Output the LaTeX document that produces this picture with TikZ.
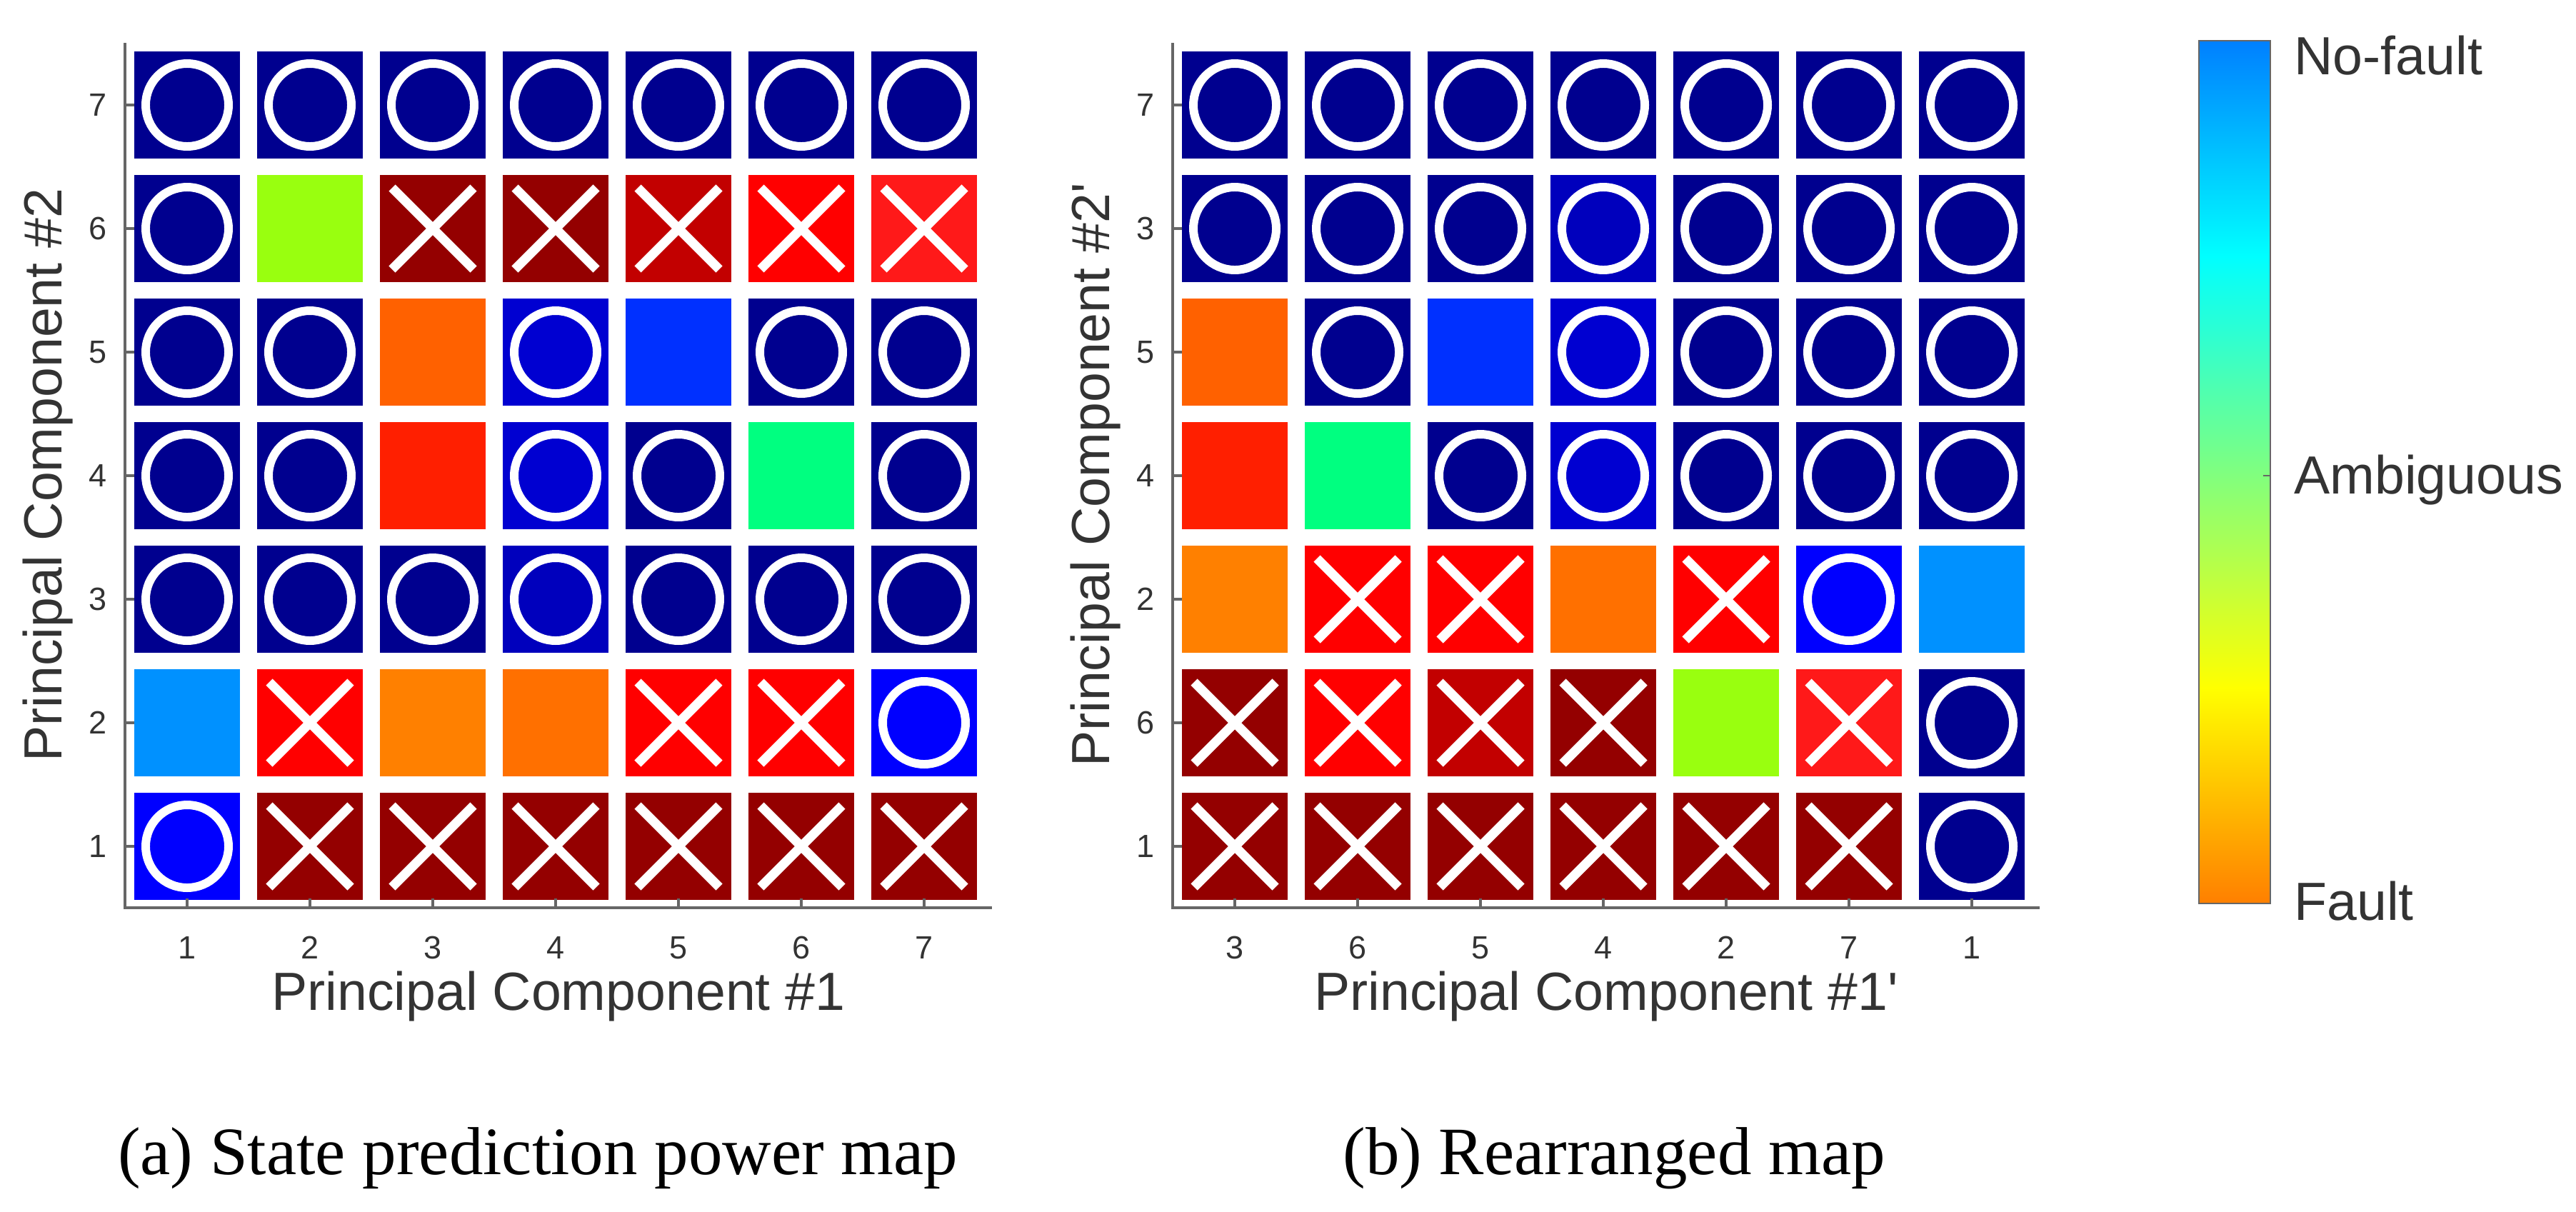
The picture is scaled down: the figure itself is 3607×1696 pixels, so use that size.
\documentclass[tikz,border=0pt]{standalone}
\usepackage{fontspec}
\setmainfont{Liberation Serif}
\newfontfamily\sansf{Liberation Sans}
\definecolor{nv}{rgb}{0,0,0.56}
\definecolor{bone}{rgb}{0,0,0.82}
\definecolor{btwo}{rgb}{0,0,0.74}
\definecolor{bb}{rgb}{0,0,1}
\definecolor{bsq}{rgb}{0,0.19,1}
\definecolor{lb}{rgb}{0,0.57,1}
\definecolor{lime}{rgb}{0.6,1,0.06}
\definecolor{sg}{rgb}{0,1,0.5}
\definecolor{dr}{rgb}{0.58,0,0}
\definecolor{drt}{rgb}{0.76,0,0}
\definecolor{rd}{rgb}{1,0,0}
\definecolor{rdt}{rgb}{1,0.1,0.1}
\definecolor{ro}{rgb}{1,0.12,0}
\definecolor{oa}{rgb}{1,0.38,0}
\definecolor{ob}{rgb}{1,0.5,0}
\definecolor{oc}{rgb}{1,0.44,0}
\definecolor{txt}{rgb}{0.2,0.2,0.2}
\definecolor{axc}{rgb}{0.4,0.4,0.4}
\pgfdeclareverticalshading{jetr}{100bp}{color(0bp)=(dr); color(12.5bp)=(red); color(37.5bp)=(yellow); color(62.5bp)=(cyan); color(87.5bp)=(blue); color(100bp)=(nv)}
\begin{document}
\begin{tikzpicture}[x=0.01cm,y=-0.01cm,
  cell/.style={draw=none,minimum width=1.48cm,minimum height=1.5cm,inner sep=0pt},
  ax/.style={draw=axc,line width=1.1pt},
  tk/.style={font=\sansf\fontsize{12.8}{14}\selectfont,text=txt},
  ttl/.style={font=\sansf\fontsize{21.4}{24}\selectfont,text=txt},
  captxt/.style={font=\fontsize{27}{30}\selectfont,text=black},
  pics/mO/.style={code={\draw[white,line width=3.4pt] (0,0) circle[radius=58];}},
  pics/mX/.style={code={\draw[white,line width=3.7pt] (-57,-57)--(57,57) (-57,57)--(57,-57);}},
  pics/mN/.style={code={}}]
\useasboundingbox (0,0) rectangle (3607,1696);
\newcommand\mygrid[3]{%
  \foreach \c/\r/\cl/\m in {#3}{
    \node[cell,fill=\cl] (#1-\c-\r) at ({#2+262+172*(\c-1)},{1185-173*(\r-1)}) {};
    \pic at (#1-\c-\r.center) {m\m};
  }}
% left map
\mygrid{a}{0}{1/7/nv/O,2/7/nv/O,3/7/nv/O,4/7/nv/O,5/7/nv/O,6/7/nv/O,7/7/nv/O,
1/6/nv/O,2/6/lime/N,3/6/dr/X,4/6/dr/X,5/6/drt/X,6/6/rd/X,7/6/rdt/X,
1/5/nv/O,2/5/nv/O,3/5/oa/N,4/5/bone/O,5/5/bsq/N,6/5/nv/O,7/5/nv/O,
1/4/nv/O,2/4/nv/O,3/4/ro/N,4/4/bone/O,5/4/nv/O,6/4/sg/N,7/4/nv/O,
1/3/nv/O,2/3/nv/O,3/3/nv/O,4/3/btwo/O,5/3/nv/O,6/3/nv/O,7/3/nv/O,
1/2/lb/N,2/2/rd/X,3/2/ob/N,4/2/oc/N,5/2/rd/X,6/2/rd/X,7/2/bb/O,
1/1/bb/O,2/1/dr/X,3/1/dr/X,4/1/dr/X,5/1/dr/X,6/1/dr/X,7/1/dr/X}
% right map
\mygrid{b}{1467}{1/7/nv/O,2/7/nv/O,3/7/nv/O,4/7/nv/O,5/7/nv/O,6/7/nv/O,7/7/nv/O,
1/6/nv/O,2/6/nv/O,3/6/nv/O,4/6/btwo/O,5/6/nv/O,6/6/nv/O,7/6/nv/O,
1/5/oa/N,2/5/nv/O,3/5/bsq/N,4/5/bone/O,5/5/nv/O,6/5/nv/O,7/5/nv/O,
1/4/ro/N,2/4/sg/N,3/4/nv/O,4/4/bone/O,5/4/nv/O,6/4/nv/O,7/4/nv/O,
1/3/ob/N,2/3/rd/X,3/3/rd/X,4/3/oc/N,5/3/rd/X,6/3/bb/O,7/3/lb/N,
1/2/dr/X,2/2/rd/X,3/2/drt/X,4/2/dr/X,5/2/lime/N,6/2/rdt/X,7/2/nv/O,
1/1/dr/X,2/1/dr/X,3/1/dr/X,4/1/dr/X,5/1/dr/X,6/1/dr/X,7/1/nv/O}
% axes
\foreach \p/\o/\xl/\yl in {a/0/{1,2,3,4,5,6,7}/{1,2,3,4,5,6,7},b/1467/{3,6,5,4,2,7,1}/{1,6,2,4,5,3,7}}{
  \coordinate (\p-top) at (175+\o,60);
  \coordinate (\p-org) at (175+\o,1271);
  \coordinate (\p-end) at (1389+\o,1271);
  \draw[ax] (\p-top) -- (\p-org) -- (\p-end);
  \foreach \v [count=\i] in \xl {
    \draw[ax] ({262+172*(\i-1)+\o},1271) -- ++(0,-13);
    \node[tk] (\p-xt-\i) at ({262+172*(\i-1)+\o},1327) {\v};
  }
  \foreach \v [count=\i] in \yl {
    \draw[ax] (175+\o,{1185-173*(\i-1)}) -- ++(13,0);
    \node[tk] (\p-yt-\i) at (137+\o,{1185-173*(\i-1)}) {\v};
  }
}
\node[ttl] (a-xl) at (782,1395) {Principal Component \#1};
\node[ttl,rotate=90] (a-yl) at (67,665) {Principal Component \#2};
\node[ttl] (b-xl) at (2249,1395) {Principal Component \#1'};
\node[ttl,rotate=90] (b-yl) at (1534,665) {Principal Component \#2'};
% colorbar
\shade[shading=jetr] (3079,57) rectangle (3179,1265);
\draw[ax,line width=0.8pt] (3079,57) rectangle (3179,1265);
\draw[ax,line width=0.8pt] (3179,666) -- ++(-10,0);
\node[ttl,anchor=west] (nf) at (3200,78) {No-fault};
\node[ttl,anchor=west] (amb) at (3200,672) {Ambiguous};
\node[ttl,anchor=west] (flt) at (3200,1262) {Fault};
% captions
\node[captxt] (capa) at (753,1622) {(a) State prediction power map};
\node[captxt] (capb) at (2260,1622) {(b) Rearranged map};
\end{tikzpicture}
\end{document}
